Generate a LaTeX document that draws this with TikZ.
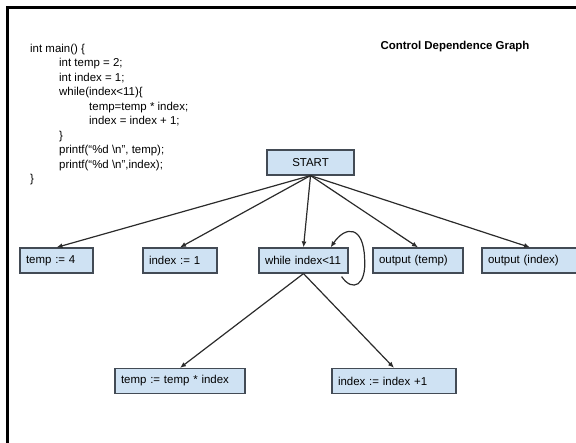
\documentclass[tikz,border=0pt]{standalone}
\usepackage{fontspec}
\setmainfont{Liberation Sans}
\usetikzlibrary{arrows.meta}
\definecolor{boxfill}{HTML}{CFE2F3}
\definecolor{boxline}{HTML}{434B55}
\definecolor{edgeline}{HTML}{2B2B2B}
\tikzset{
  stmt/.style={draw=boxline,fill=boxfill,line width=1.2bp,minimum height=25bp,
    inner xsep=6bp,inner ysep=0pt,text width=#1,align=left,
    font=\fontsize{11.5}{13}\selectfont},
  dep/.style={-{Latex[length=6bp,width=5bp]},draw=edgeline,line width=1.2bp}
}
\begin{document}
\begin{tikzpicture}[x=1bp,y=-1bp]
\useasboundingbox (0,0) rectangle (576,443);
\draw[line width=3bp] (7,446) -- (7,8) -- (580,8);

\node[anchor=north west,inner sep=0pt,align=left,font=\fontsize{11.5}{14.5}\selectfont] (code) at (30,44)
{int main() \{\\
\hspace*{29bp}int temp = 2;\\
\hspace*{29bp}int index = 1;\\
\hspace*{29bp}while(index<11)\{\\
\hspace*{59bp}temp=temp * index;\\
\hspace*{59bp}index = index + 1;\\
\hspace*{29bp}\}\\
\hspace*{29bp}printf(“\%d \textbackslash n”, temp);\\
\hspace*{29bp}printf(“\%d \textbackslash n”,index);\\
\}};
\node[font=\bfseries\fontsize{11.5}{13}\selectfont] (title) at (455,47) {Control Dependence Graph};

\node[stmt=75bp,align=center] (start) at (310.5,162.5) {START};

\node[stmt=61bp] (t4) at (56.5,260.5) {temp := 4};
\node[stmt=62bp] (i1) [right of=t4,node distance=123.5bp] {index := 1};
\node[stmt=77bp] (while) [right of=i1,node distance=123.5bp] {while index<11};
\node[stmt=78bp] (outt) [right of=while,node distance=114.5bp] {output (temp)};
\node[stmt=84bp] (outi) [right of=outt,node distance=112bp] {output (index)};

\node[stmt=118bp] (tti) at (180,381) {temp := temp * index};
\node[stmt=112bp] (iii) [right of=tti,node distance=214bp] {index := index +1};

\draw[dep] (start.south) -- (t4.north);
\draw[dep] (start.south) -- (i1.north);
\draw[dep] (start.south) -- (while.north);
\draw[dep] (start.south) -- (outt.north);
\draw[dep] (start.south) -- (outi.north);

\draw[dep] (while.south) -- (tti.north);
\draw[dep] (while.south) -- (iii.north);

\draw[dep] ([shift={(-7,3)}]while.south east) .. controls +(11,16) and +(2,27) .. ([shift={(16,-15)}]while.south east)
  .. controls +(-1,-33) and +(15,-22) .. ([xshift=-18bp]while.north east);
\end{tikzpicture}
\end{document}
